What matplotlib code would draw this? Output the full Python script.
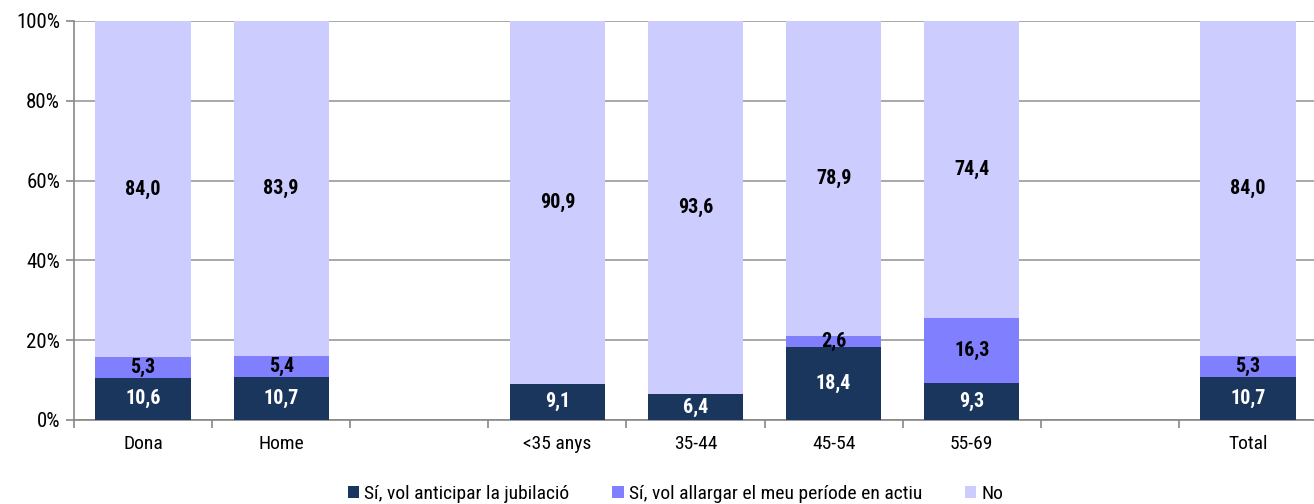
import numpy as np
import matplotlib.pyplot as plt
from matplotlib import font_manager

# narrow sans for all text
names = set(f.name for f in font_manager.fontManager.ttflist)
fam = [n for n in ['Roboto Condensed', 'Liberation Sans'] if n in names]
plt.rcParams['font.family'] = fam + ['DejaVu Sans']

categories = ['Dona', 'Home', '', '<35 anys', '35-44', '45-54', '55-69', '', 'Total']
anticipar = [10.6, 10.7, None, 9.1, 6.4, 18.4, 9.3, None, 10.7]
allargar = [5.3, 5.4, None, 0.0, 0.0, 2.6, 16.3, None, 5.3]
no_vals = [84.0, 83.9, None, 90.9, 93.6, 78.9, 74.4, None, 84.0]
series_names = ['Sí, vol anticipar la jubilació',
                'Sí, vol allargar el meu període en actiu', 'No']
colors = ['#1b365d', '#8080ff', '#ccccff']
label_colors = ['white', 'black', 'black']

fig = plt.figure(figsize=(13.14, 5.04), dpi=100)
ax = fig.add_axes([0.0563, 0.1667, 0.946, 0.7917])

x = np.arange(len(categories))
idx = [i for i in range(len(categories)) if anticipar[i] is not None]
series = [anticipar, allargar, no_vals]
bottoms = np.zeros(len(idx))
handles = []
for s, vals in enumerate(series):
    v = np.array([vals[i] for i in idx])
    h = ax.bar(x[idx], v, bottom=bottoms, width=0.69, color=colors[s],
               zorder=3, label=series_names[s])
    handles.append(h)
    for xi, b, val in zip(x[idx], bottoms, v):
        if val > 0:
            ax.text(xi, b + val / 2, ('%.1f' % val).replace('.', ','),
                    ha='center', va='center', fontsize=14.5, fontweight='bold',
                    color=label_colors[s], zorder=4)
    bottoms = bottoms + v

ax.set_xlim(-0.5, len(categories) - 0.5)
ax.set_ylim(0, 100)
ax.set_yticks(np.arange(0, 101, 20))
ax.set_yticklabels(['%d%%' % t for t in range(0, 101, 20)], fontsize=15)
ax.yaxis.grid(True, color='#999999', linewidth=1.2, zorder=0)

ax.set_xticks(x)
ax.set_xticklabels(categories, fontsize=14)
ax.tick_params(axis='x', length=0, pad=11)
ax.set_xticks(np.arange(-0.5, len(categories) - 0.4, 1), minor=True)
ax.tick_params(axis='x', which='minor', length=6, color='#888888', width=1.2)
ax.tick_params(axis='y', length=6, color='#888888', width=1.2, pad=4)

for side in ['top', 'right']:
    ax.spines[side].set_visible(False)
for side in ['left', 'bottom']:
    ax.spines[side].set_color('#888888')
    ax.spines[side].set_linewidth(1.2)

fig.legend(handles=handles, loc='center', bbox_to_anchor=(0.514, 0.02),
           ncol=3, frameon=False, fontsize=14, handlelength=0.6,
           handleheight=0.6, handletextpad=0.25, columnspacing=2.2)

fig.savefig('out.png', dpi=100)
